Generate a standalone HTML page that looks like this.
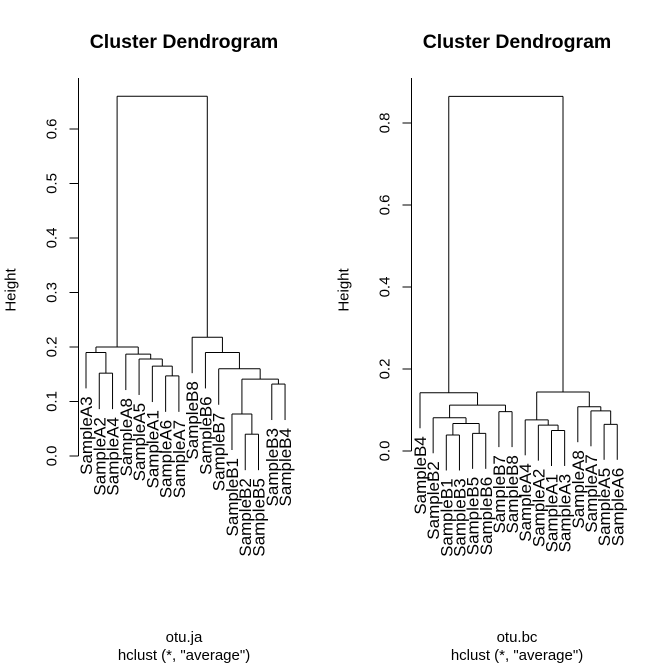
<!DOCTYPE html>
<html><head><meta charset="utf-8"><style>
html,body{margin:0;padding:0;background:#fff;}
svg{display:block;font-family:"Liberation Sans",sans-serif;}
</style></head><body>
<svg id="c" width="666" height="665" xmlns="http://www.w3.org/2000/svg"></svg>
<script>
const leavesL = ["SampleA3","SampleA2","SampleA4","SampleA8","SampleA5","SampleA1","SampleA6","SampleA7","SampleB8","SampleB6","SampleB7","SampleB1","SampleB2","SampleB5","SampleB3","SampleB4"];
const mergeL = [[-2,-3],[-7,-8],[-6,2],[-5,3],[-4,4],[-1,1],[6,5],[-13,-14],[-12,8],[-15,-16],[9,10],[-11,11],[-10,12],[-9,13],[7,14]];
const heightsL = [0.152,0.147,0.165,0.178,0.187,0.190,0.200,0.040,0.077,0.132,0.141,0.160,0.190,0.218,0.66];
const ticksL = ["0.0","0.1","0.2","0.3","0.4","0.5","0.6"];

const leavesR = ["SampleB4","SampleB2","SampleB1","SampleB3","SampleB5","SampleB6","SampleB7","SampleB8","SampleA4","SampleA2","SampleA1","SampleA3","SampleA8","SampleA7","SampleA5","SampleA6"];
const mergeR = [[-3,-4],[-5,-6],[1,2],[-2,3],[-7,-8],[4,5],[-1,6],[-11,-12],[-10,8],[-9,9],[-15,-16],[-14,11],[-13,12],[10,13],[7,14]];
const heightsR = [0.039,0.043,0.067,0.081,0.096,0.112,0.142,0.050,0.063,0.076,0.065,0.098,0.108,0.144,0.865];
const ticksR = ["0.0","0.2","0.4","0.6","0.8"];

const svg = document.getElementById('c');
const NS = "http://www.w3.org/2000/svg";
function mk(tag, attrs, parent){const e=document.createElementNS(NS,tag);for(const k in attrs)e.setAttribute(k,attrs[k]);(parent||svg).appendChild(e);return e;}

function panel(p){
  const g = mk('g',{});
  
  
  const xOf = i => p.x0 + i*p.dx;
  const yOf = h => p.y0 - p.sy*h;
  const maxH = Math.max(...p.heights);
  const hang = 0.1*maxH;
  const pos = {};
  function node(ref){
    if(ref<0){const i=-ref-1;return {x:xOf(i),h:null,leaf:i};}
    return pos[ref];
  }
  p.merge.forEach((m,k)=>{
    const h = p.heights[k];
    const a = node(m[0]), b = node(m[1]);
    const yh = yOf(h);
    [a,b].forEach(n=>{
      const yb = n.leaf!==undefined ? yOf(h-hang) : yOf(n.h);
      const ln = mk('line',{x1:n.x,x2:n.x,y1:yh,y2:yb,stroke:'#000','stroke-width':1},g);
      
      
      if(n.leaf!==undefined){
        const t = mk('text',{transform:`translate(${n.x+6},${yb+8}) rotate(-90)`,'text-anchor':'end','font-size':17},g);
        t.textContent = p.leaves[n.leaf];
        
        
      }
    });
    const hl = mk('line',{x1:a.x,x2:b.x,y1:yh,y2:yh,stroke:'#000','stroke-width':1},g);
    
    
    pos[k+1] = {x:(a.x+b.x)/2,h:h};
  });
  const ax = mk('line',{x1:p.ax,x2:p.ax,y1:yOf(0),y2:78,stroke:'#000'},g);
  
  
  p.ticks.forEach(tv=>{
    const y = yOf(parseFloat(tv));
    const tk = mk('line',{x1:p.ax-9,x2:p.ax,y1:y,y2:y,stroke:'#000'},g);
    
    
    const t = mk('text',{transform:`translate(${p.ax-22},${y}) rotate(-90)`,'text-anchor':'middle','font-size':15,fill:'#000'},g);
    t.textContent = tv;
    
    
  });
  const ti = mk('text',{x:p.cx,y:48,'text-anchor':'middle','font-size':19.5,'font-weight':'bold'},g);
  ti.textContent = 'Cluster Dendrogram';
  
  
  const yl = mk('text',{transform:`translate(${p.ax-63},${p.ymid}) rotate(-90)`,'text-anchor':'middle','font-size':15},g);
  yl.textContent = 'Height';
  
  
  const s1 = mk('text',{x:p.cx,y:642,'text-anchor':'middle','font-size':15},g);
  s1.textContent = p.sub;
  
  
  const s2 = mk('text',{x:p.cx,y:660,'text-anchor':'middle','font-size':15},g);
  s2.textContent = 'hclust (*, "average")';
  
  
}
panel({name:'left-dendrogram',leaves:leavesL,merge:mergeL,heights:heightsL,ticks:ticksL,x0:86,dx:13.27,y0:456,sy:545,ax:78.5,cx:184,ymid:290,sub:'otu.ja'});
panel({name:'right-dendrogram',leaves:leavesR,merge:mergeR,heights:heightsR,ticks:ticksR,x0:420,dx:13.15,y0:451,sy:410,ax:411.5,cx:517,ymid:290,sub:'otu.bc'});
</script>
</body></html>
